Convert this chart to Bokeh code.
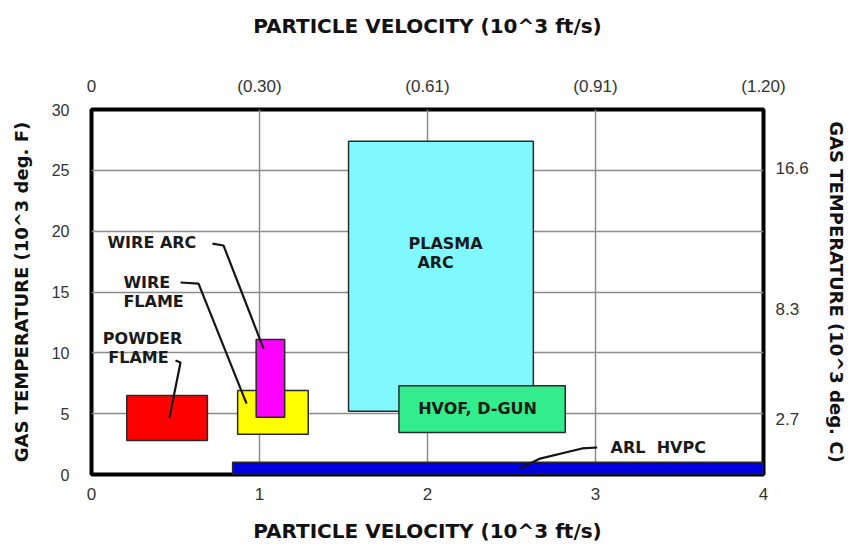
from bokeh.plotting import figure
from bokeh.models import Range1d, LinearAxis, FixedTicker, Grid, ColumnDataSource
from bokeh.core.properties import value
from bokeh.embed import file_html
from bokeh.resources import INLINE

# ---- axis data ----
x_ticks = [0, 1, 2, 3, 4]
x_top_labels = ["0", "(0.30)", "(0.61)", "(0.91)", "(1.20)"]
y_ticks = [0, 5, 10, 15, 20, 25, 30]
y_right_pos = [25.2, 13.6, 4.6]
y_right_labels = ["16.6", "8.3", "2.7"]

# ---- process regions (10^3 ft/s, 10^3 deg F) ----
processes = ["POWDER FLAME", "WIRE FLAME", "WIRE ARC", "PLASMA ARC", "HVOF, D-GUN", "ARL HVPC"]
vel_min = [0.21, 0.87, 0.98, 1.53, 1.83, 0.84]
vel_max = [0.69, 1.29, 1.15, 2.63, 2.82, 4.00]
temp_min = [2.8, 3.3, 4.7, 5.2, 3.45, 0.0]
temp_max = [6.5, 6.9, 11.1, 27.4, 7.3, 1.0]
colors = ["#ff0000", "#ffff00", "#ff00ff", "#80f8ff", "#33ec8c", "#0000dc"]

# ---- labels ----
label_text = ["PLASMA", "ARC", "HVOF, D-GUN", "WIRE ARC", "WIRE", "FLAME", "POWDER", "FLAME",
              "ARL\u00a0\u00a0HVPC"]
label_x = [1.887, 1.94, 2.298, 0.095, 0.19, 0.19, 0.304, 0.28, 3.09]
label_y = [18.98, 17.42, 5.42, 19.06, 15.78, 14.2, 11.17, 9.61, 2.22]
label_align = ["left", "left", "center", "left", "left", "left", "center", "center", "left"]

# ---- leader lines ----
leader_x = [[0.72, 0.786, 1.024], [0.53, 0.637, 0.923], [0.50, 0.53, 0.464], [3.01, 2.92, 2.67, 2.55]]
leader_y = [[18.98, 18.82, 10.35], [15.78, 15.69, 5.83], [9.37, 9.20, 4.68], [2.22, 2.14, 1.31, 0.49]]

p = figure(width=851, height=548, x_range=Range1d(0, 4), y_range=Range1d(0, 30),
           x_axis_type=None, y_axis_type=None,
           output_backend="svg", toolbar_location=None,
           min_border_left=91, min_border_right=88, min_border_top=109, min_border_bottom=74,
           background_fill_color="white", border_fill_color="white")
p.outline_line_color = "black"
p.outline_line_width = 4

tick_font = "Liberation Sans"
title_font = "DejaVu Sans"

def style_axis(ax, label, tick_standoff, label_standoff, tick_size, title_size):
    ax.axis_label = label
    ax.axis_label_text_font = title_font
    ax.axis_label_text_font_style = "bold"
    ax.axis_label_text_font_size = title_size
    ax.axis_label_text_color = "#111111"
    ax.axis_label_standoff = label_standoff
    ax.major_label_text_font = tick_font
    ax.major_label_text_font_size = tick_size
    ax.major_label_text_color = "#333333"
    ax.major_label_standoff = tick_standoff
    ax.axis_line_color = None
    ax.major_tick_line_color = None
    ax.minor_tick_line_color = None
    ax.major_tick_out = 0
    ax.major_tick_in = 0

xb = LinearAxis(ticker=FixedTicker(ticks=x_ticks))
style_axis(xb, "PARTICLE VELOCITY (10^3 ft/s)", 13, 16, "17px", "20px")
p.add_layout(xb, "below")

xt = LinearAxis(ticker=FixedTicker(ticks=x_ticks),
                major_label_overrides={t: s for t, s in zip(x_ticks, x_top_labels)})
style_axis(xt, "PARTICLE VELOCITY (10^3 ft/s)", 14, 36, "17px", "20px")
p.add_layout(xt, "above")

yl = LinearAxis(ticker=FixedTicker(ticks=y_ticks))
style_axis(yl, "GAS TEMPERATURE (10^3 deg. F)", 22, 17, "16px", "18px")
p.add_layout(yl, "left")

yr = LinearAxis(ticker=FixedTicker(ticks=y_right_pos),
                major_label_overrides={t: s for t, s in zip(y_right_pos, y_right_labels)})
style_axis(yr, "GAS TEMPERATURE (10^3 deg. C)", 12, 14, "17px", "18px")
p.add_layout(yr, "right")

p.add_layout(Grid(dimension=0, ticker=FixedTicker(ticks=x_ticks), grid_line_color="#8c8c8c", grid_line_width=1.5))
p.add_layout(Grid(dimension=1, ticker=FixedTicker(ticks=y_ticks), grid_line_color="#8c8c8c", grid_line_width=1.5))

src = ColumnDataSource(dict(name=processes, left=vel_min, right=vel_max,
                            bottom=temp_min, top=temp_max, color=colors))
p.quad(left="left", right="right", bottom="bottom", top="top", fill_color="color",
       line_color="#2a2a2a", line_width=1.5, source=src)

p.multi_line(xs=leader_x, ys=leader_y, line_color="#151515", line_width=2.2)

lsrc = ColumnDataSource(dict(x=label_x, y=label_y, text=label_text, align=label_align))
p.text(x="x", y="y", text="text", text_align="align", text_baseline="middle",
       text_font=value(title_font), text_font_style="bold", text_font_size="16px",
       text_color="#1a1a1a", source=lsrc)

open("out.html", "w").write(file_html(p, INLINE))
